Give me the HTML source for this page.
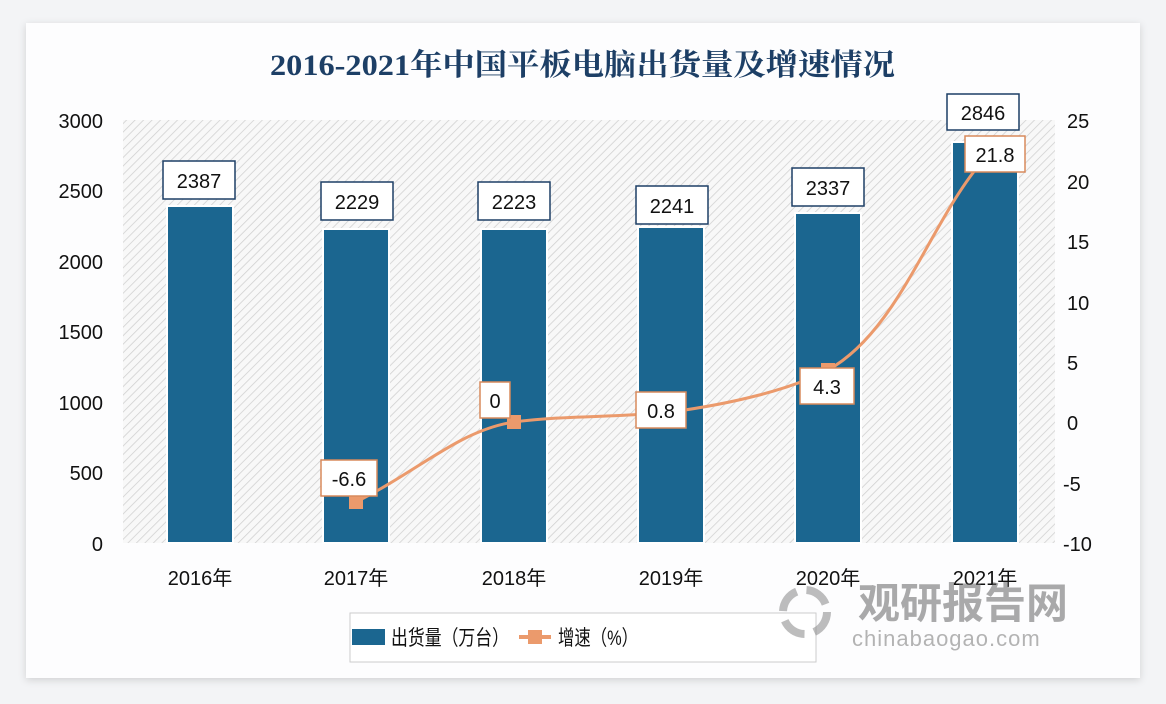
<!DOCTYPE html>
<html><head><meta charset="utf-8"><style>
body{margin:0;background:#f3f4f6;}
svg{display:block;font-family:"Liberation Sans","Noto Sans CJK SC",sans-serif;}
</style></head><body>
<svg width="1166" height="704" viewBox="0 0 1166 704">
<defs>
<pattern id="h" width="6" height="6" patternUnits="userSpaceOnUse" patternTransform="rotate(45)">
<rect width="6" height="6" fill="#f8f8f8"/><line x1="0" y1="0" x2="0" y2="6" stroke="#cfcfcf" stroke-width="1.5"/></pattern>
<filter id="sh" x="-5%" y="-5%" width="110%" height="110%"><feDropShadow dx="0" dy="2" stdDeviation="4" flood-color="#000" flood-opacity="0.15"/></filter>
</defs>
<rect width="1166" height="704" fill="#f3f4f6"/>
<rect x="26" y="23" width="1114" height="655" fill="#fdfdfe" filter="url(#sh)"/>
<text x="270" y="75" textLength="625" lengthAdjust="spacingAndGlyphs" font-size="30" fill="#1d3f66" font-family="'Liberation Serif','Noto Serif CJK SC',serif" font-weight="bold">2016-2021年中国平板电脑出货量及增速情况</text>
<rect x="123" y="120" width="932" height="423" fill="url(#h)"/>
<g font-size="20" fill="#111">
<g text-anchor="end">
<text x="103" y="128">3000</text><text x="103" y="198">2500</text><text x="103" y="269">2000</text><text x="103" y="339">1500</text><text x="103" y="410">1000</text><text x="103" y="480">500</text><text x="103" y="551">0</text>
</g>
<g text-anchor="start">
<text x="1067" y="128">25</text><text x="1067" y="189">20</text><text x="1067" y="249">15</text><text x="1067" y="310">10</text><text x="1067" y="370">5</text><text x="1067" y="430">0</text><text x="1063" y="491">-5</text><text x="1063" y="551">-10</text>
</g>
<g text-anchor="middle">
<text x="200" y="585">2016年</text><text x="356" y="585">2017年</text><text x="514" y="585">2018年</text><text x="671" y="585">2019年</text><text x="828" y="585">2020年</text><text x="985" y="585">2021年</text>
</g>
</g>
<g fill="#1b6690" stroke="#fff" stroke-width="2">
<rect x="167" y="206" width="66" height="337"/>
<rect x="323" y="229" width="66" height="314"/>
<rect x="481" y="229" width="66" height="314"/>
<rect x="638" y="227" width="66" height="316"/>
<rect x="795" y="213" width="66" height="330"/>
<rect x="952" y="142" width="66" height="401"/>
</g>
<path d="M356,502 C420,470 460,430 514,422 C570,415 610,418 671,412 C730,404 790,390 828,370 C900,330 930,220 985,158" fill="none" stroke="#eb9a6c" stroke-width="3"/>
<g fill="#eb9a6c"><rect x="349" y="495" width="14" height="14"/><rect x="507" y="415" width="14" height="14"/><rect x="664" y="405" width="14" height="14"/><rect x="821" y="363" width="14" height="14"/><rect x="978" y="151" width="14" height="14"/></g>
<g font-size="20" fill="#111" text-anchor="middle">
<g fill="#fff" stroke="#1d3f66" stroke-width="1.5">
<rect x="163" y="161" width="72" height="38"/><rect x="321" y="182" width="72" height="38"/><rect x="478" y="182" width="72" height="38"/><rect x="636" y="186" width="72" height="38"/><rect x="792" y="168" width="72" height="38"/><rect x="947" y="94" width="72" height="36"/>
</g>
<text x="199" y="188">2387</text><text x="357" y="209">2229</text><text x="514" y="209">2223</text><text x="672" y="213">2241</text><text x="828" y="195">2337</text><text x="983" y="120">2846</text>
<g fill="#fff" stroke="#d88a5c" stroke-width="1.5">
<rect x="321" y="460" width="56" height="36"/><rect x="480" y="382" width="30" height="36"/><rect x="636" y="392" width="50" height="36"/><rect x="800" y="368" width="54" height="36"/><rect x="965" y="136" width="60" height="36"/>
</g>
<text x="349" y="486">-6.6</text><text x="495" y="408">0</text><text x="661" y="418">0.8</text><text x="827" y="394">4.3</text><text x="995" y="162">21.8</text>
</g>
<rect x="350" y="613" width="466" height="49" fill="#fff" stroke="#ccc"/>
<rect x="352" y="629" width="33" height="16" fill="#1b6690"/>
<text x="391" y="645" font-size="21" fill="#111" textLength="118" lengthAdjust="spacingAndGlyphs">出货量（万台）</text>
<line x1="519" y1="637" x2="551" y2="637" stroke="#eb9a6c" stroke-width="4"/>
<rect x="528" y="630" width="14" height="14" fill="#eb9a6c"/>
<text x="558" y="645" font-size="21" fill="#111" textLength="80" lengthAdjust="spacingAndGlyphs">增速（%）</text>
<g opacity="0.55">
<circle cx="805" cy="612" r="22" fill="none" stroke="#888" stroke-width="8" stroke-dasharray="25 10"/>
<text x="858" y="618" font-size="42" font-weight="bold" fill="#666">观研报告网</text>
<text x="852" y="646" font-size="22" fill="#777" letter-spacing="1">chinabaogao.com</text>
</g>
</svg>
</body></html>
